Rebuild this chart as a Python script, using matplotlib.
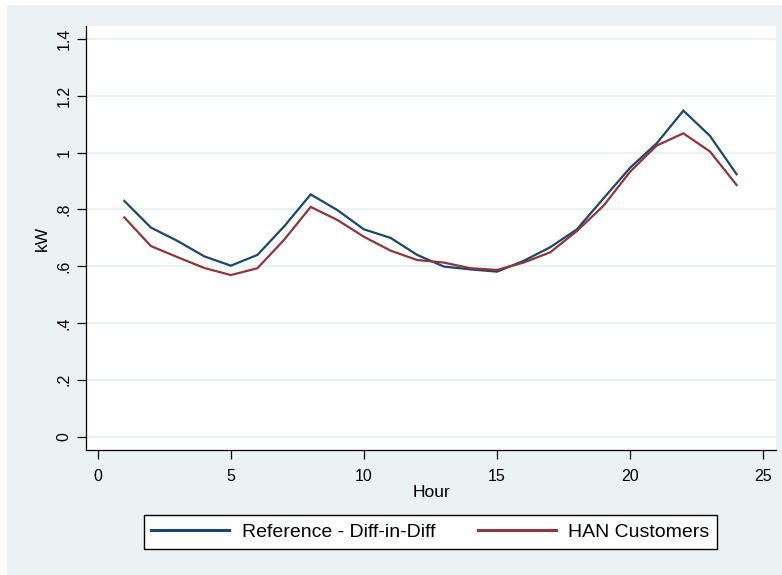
import matplotlib
matplotlib.use("Agg")
import matplotlib.pyplot as plt
from matplotlib.patches import Rectangle

# Average hourly load profile (kW)
hours = list(range(1, 25))
reference_did = [0.830, 0.736, 0.689, 0.635, 0.602, 0.640, 0.740, 0.853,
                 0.798, 0.730, 0.700, 0.640, 0.599, 0.589, 0.581, 0.619,
                 0.667, 0.730, 0.839, 0.947, 1.033, 1.148, 1.059, 0.924]
han_customers = [0.772, 0.671, 0.632, 0.594, 0.569, 0.593, 0.693, 0.809,
                 0.763, 0.704, 0.655, 0.622, 0.613, 0.593, 0.587, 0.613,
                 0.649, 0.724, 0.813, 0.933, 1.025, 1.068, 1.004, 0.886]
series_labels = ["Reference - Diff-in-Diff", "HAN Customers"]
x_ticks = [0, 5, 10, 15, 20, 25]
x_tick_labels = ["0", "5", "10", "15", "20", "25"]
y_ticks = [0, 0.2, 0.4, 0.6, 0.8, 1.0, 1.2, 1.4]
y_tick_labels = ["0", ".2", ".4", ".6", ".8", "1", "1.2", "1.4"]

plt.rcParams["font.family"] = ["Liberation Sans", "DejaVu Sans"]

BG = "#EAF2F3"
BLUE = "#1A476F"
RED = "#90353B"

W, H = 782, 575
fig = plt.figure(figsize=(W / 100, H / 100), dpi=100, facecolor="white")
fig.patches.append(Rectangle((7 / W, 0), 1 - 7 / W, (H - 5) / H,
                             transform=fig.transFigure, facecolor=BG,
                             edgecolor="none", zorder=-10))

ax = fig.add_axes([86 / W, 1 - 450 / H, (776 - 86) / W, (450 - 26) / H])
ax.set_facecolor("white")

ax.plot(hours, reference_did, color=BLUE, lw=1.6, label=series_labels[0],
        solid_joinstyle="miter")
ax.plot(hours, han_customers, color=RED, lw=1.6, label=series_labels[1],
        solid_joinstyle="miter")

ax.set_xlim(-0.44, 25.48)
ax.set_ylim(-0.047, 1.446)

ax.set_yticks(y_ticks)
ax.set_yticklabels(y_tick_labels, rotation=90, va="center")
ax.set_xticks(x_ticks)
ax.set_xticklabels(x_tick_labels)

ax.grid(axis="y", color=BG, lw=1.6)
ax.set_axisbelow(True)

for side in ("top", "right"):
    ax.spines[side].set_visible(False)
for side in ("left", "bottom"):
    ax.spines[side].set_linewidth(0.9)
    ax.spines[side].set_color("black")

ax.tick_params(axis="both", direction="out", length=6.5, width=0.9,
               colors="black", labelsize=11.5)
ax.tick_params(axis="x", pad=7)
ax.tick_params(axis="y", pad=4)

ax.set_xlabel("Hour", fontsize=12.5, labelpad=1)
ax.set_ylabel("kW", fontsize=12.5, labelpad=5)

leg = fig.legend(loc="center", bbox_to_anchor=(430.5 / W, 1 - 532 / H),
                 ncol=2, fontsize=14, frameon=True, fancybox=False,
                 framealpha=1, edgecolor="black", handlelength=4.0,
                 handletextpad=0.65, columnspacing=2.2, borderpad=0.4)
leg.get_frame().set_linewidth(1.0)
for line in leg.get_lines():
    line.set_linewidth(2.2)

fig.savefig("out.png", dpi=100, facecolor=fig.get_facecolor())
